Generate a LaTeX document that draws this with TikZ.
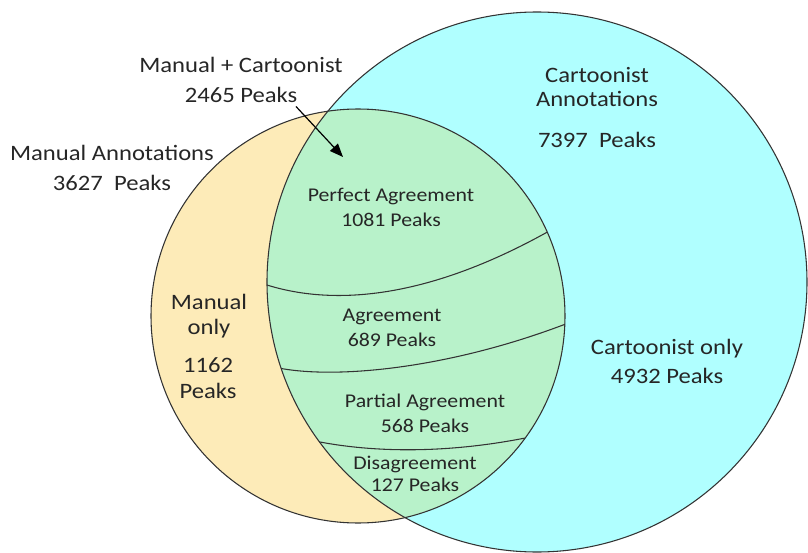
\documentclass[tikz,border=0pt]{standalone}
\usepackage{fontspec}
\setmainfont{Carlito}[FakeStretch=1.12]
\usetikzlibrary{arrows.meta,calc}
\definecolor{peach}{HTML}{FDEBB8}
\definecolor{skycyan}{HTML}{B0FFFF}
\definecolor{mint}{HTML}{B8F2CA}
\definecolor{edge}{HTML}{333333}
\tikzset{
  outertxt/.style={font=\fontsize{16.5}{22.5}\selectfont, align=center, inner sep=0pt, text=black!85},
  innertxt/.style={font=\fontsize{14.6}{18.75}\selectfont, align=center, inner sep=0pt, text=black!85},
  outline/.style={draw=edge, line width=0.8pt},
  divider/.style={draw=black!80, line width=0.8pt},
  pointer/.style={draw=black, line width=0.9pt, -{Triangle[length=10pt,width=8pt]}}
}
\begin{document}
\begin{tikzpicture}[x=0.75pt,y=-0.75pt]
\useasboundingbox (0,0) rectangle (808,553);
% circles
\coordinate (cc) at (537,282);
\coordinate (oc) at (358,316);
\fill[skycyan] (cc) circle[radius=202.5pt];
\fill[peach] (oc) circle[radius=155.25pt];
\begin{scope}
  \clip (oc) circle[radius=155.25pt];
  \fill[mint] (cc) circle[radius=202.5pt];
  \clip (cc) circle[radius=202.5pt];
  \draw[divider] (258,282) .. controls (330,308) and (430,300) .. (558,226);
  \draw[divider] (274,367) .. controls (330,380) and (450,370) .. (576,320);
  \draw[divider] (310,440) .. controls (380,455) and (460,452) .. (535,436);
\end{scope}
\draw[outline] (cc) circle[radius=202.5pt];
\draw[outline] (oc) circle[radius=155.25pt];
% labels
\node[outertxt] (mc) at (241,79.5) {Manual + Cartoonist\\2465 Peaks};
\node[outertxt] (ma) at (112,167.5) {Manual Annotations\\3627\ \ Peaks};
\node[outertxt,font=\fontsize{16.5}{18}\selectfont] (ca) at (597,87.5) {Cartoonist\\Annotations};
\node[outertxt,anchor=base] (cap) at (597,147) {7397\ \ Peaks};
\node[outertxt,font=\fontsize{16.5}{21.75}\selectfont] (co) at (667,361) {Cartoonist only\\4932 Peaks};
\node[outertxt,font=\fontsize{16.5}{18.75}\selectfont] (mo) at (209,316) {Manual\\only};
\node[outertxt,font=\fontsize{16.5}{19.5}\selectfont] (mop) at (208,378) {1162\\Peaks};
\node[innertxt] (pa) at (391,207) {Perfect Agreement\\1081 Peaks};
\node[innertxt] (ag) at (392,328) {Agreement\\689 Peaks};
\node[innertxt] (pt) at (425,413) {Partial Agreement\\568 Peaks};
\node[innertxt,font=\fontsize{14.6}{16.5}\selectfont] (dg) at (415,474) {Disagreement\\127 Peaks};
% arrow
\coordinate (a0) at ($(mc.south)+(55,4)$);
\coordinate (a1) at (343,157);
\draw[pointer] (a0) -- (a1);
\end{tikzpicture}
\end{document}
